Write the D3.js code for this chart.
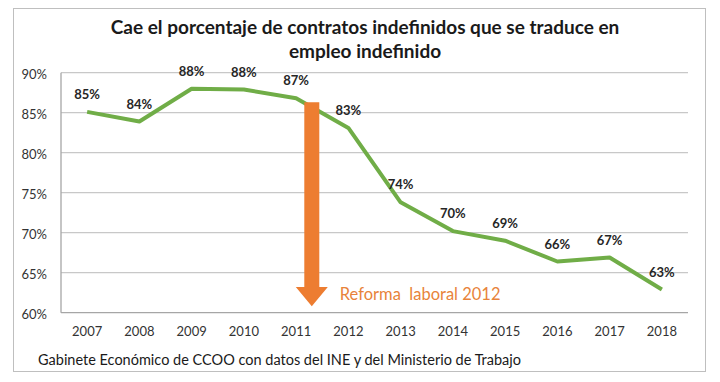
<!DOCTYPE html>
<html>
<head>
<meta charset="utf-8">
<script src="https://cdn.jsdelivr.net/npm/d3@7"></script>
<style>
  body { margin: 0; background: #fff; }
  svg { display: block; font-family: Lato, "Open Sans", sans-serif; }
</style>
</head>
<body>
<svg id="chart" width="720" height="382"></svg>
<script>
const years = ["2007", "2008", "2009", "2010", "2011", "2012", "2013", "2014", "2015", "2016", "2017", "2018"];
const values = [85.1, 83.9, 88.0, 87.9, 86.8, 83.1, 73.8, 70.2, 69.0, 66.4, 66.9, 62.9];
const labels = ["85%", "84%", "88%", "88%", "87%", "83%", "74%", "70%", "69%", "66%", "67%", "63%"];
const yTicks = [60, 65, 70, 75, 80, 85, 90];
const titleLines = ["Cae el porcentaje de contratos indefinidos que se traduce en", "empleo indefinido"];
const annotation = "Reforma  laboral 2012";
const source = "Gabinete Económico de CCOO con datos del INE y del Ministerio de Trabajo";

const svg = d3.select("#chart");
const plot = { left: 61, right: 688, top: 72.7, bottom: 312.7 };

// outer frame
svg.append("rect")
  .attr("x", 13.5).attr("y", 8.5)
  .attr("width", 692).attr("height", 363)
  .attr("fill", "#fff")
  .attr("stroke", "#bfbfbf")
  .attr("stroke-width", 1);

svg.selectAll(".title")
  .data(titleLines)
  .enter()
  .append("text")
  .attr("x", 365)
  .attr("y", (d, i) => 34 + i * 24)
  .attr("text-anchor", "middle")
  .style("font-size", "19px")
  .style("font-weight", "bold")
  .style("fill", "#1a1a1a")
  .text((d) => d);

const xScale = d3.scaleBand().domain(years).range([plot.left, plot.right]).padding(0);
const xc = (d) => xScale(d) + xScale.bandwidth() / 2;
const yScale = d3.scaleLinear().domain([60, 90]).range([plot.bottom, plot.top]);

// gridlines
svg.append("g")
  .selectAll("line")
  .data(yTicks)
  .enter()
  .append("line")
  .attr("x1", plot.left).attr("x2", plot.right)
  .attr("y1", (d) => yScale(d)).attr("y2", (d) => yScale(d))
  .attr("stroke", (d) => (d === 60 ? "#a6a6a6" : "#c8c8c8"))
  .attr("stroke-width", 1.3);

svg.append("line")
  .attr("x1", plot.left).attr("x2", plot.left)
  .attr("y1", plot.top).attr("y2", plot.bottom)
  .attr("stroke", "#a6a6a6")
  .attr("stroke-width", 1.3);

// y axis labels
const yAxis = d3.axisLeft(yScale).tickValues(yTicks).tickSize(0).tickPadding(14)
  .tickFormat((d) => d + "%");
svg.append("g")
  .attr("transform", `translate(${plot.left},2)`)
  .call(yAxis)
  .call((g) => g.select(".domain").remove())
  .selectAll("text")
  .style("font-family", "Lato, sans-serif")
  .style("font-size", "13px")
  .style("fill", "#333");

// x axis labels
const xAxis = d3.axisBottom(xScale).tickSize(0).tickPadding(14);
svg.append("g")
  .attr("transform", `translate(0,${plot.bottom})`)
  .call(xAxis)
  .call((g) => g.select(".domain").remove())
  .selectAll("text")
  .style("font-family", "Lato, sans-serif")
  .style("font-size", "13px")
  .style("fill", "#333");

// line
const line = d3.line()
  .x((d, i) => xc(years[i]))
  .y((d) => yScale(d));

svg.append("path")
  .datum(values)
  .attr("d", line)
  .attr("fill", "none")
  .attr("stroke", "#70ad47")
  .attr("stroke-width", 4)
  .attr("stroke-linejoin", "round");

// arrow annotation
const ax = xc("2011") + xScale.step() * 0.3;
const aTop = yScale(86.3), aHead = yScale(63.2), aTip = yScale(60.8);
const arrowPts = [
  [ax - 7.5, aTop], [ax + 7.5, aTop], [ax + 7.5, aHead], [ax + 16, aHead],
  [ax, aTip], [ax - 16, aHead], [ax - 7.5, aHead]
];
svg.append("path")
  .attr("d", d3.line()(arrowPts) + "Z")
  .attr("fill", "#ed7d31");

svg.append("text")
  .attr("x", ax + 28)
  .attr("y", yScale(62.4) + 6)
  .style("font-size", "16.5px")
  .style("fill", "#e8833a")
  .style("white-space", "pre")
  .attr("xml:space", "preserve")
  .text(annotation);

// data labels
svg.selectAll(".label")
  .data(values)
  .enter()
  .append("text")
  .attr("x", (d, i) => xc(years[i]))
  .attr("y", (d) => yScale(d) - 13)
  .attr("text-anchor", "middle")
  .style("font-size", "13px")
  .style("font-weight", "bold")
  .style("fill", "#262626")
  .text((d, i) => labels[i]);

svg.append("text")
  .attr("x", 38)
  .attr("y", 365)
  .style("font-size", "14.5px")
  .style("fill", "#1a1a1a")
  .text(source);
</script>
</body>
</html>
